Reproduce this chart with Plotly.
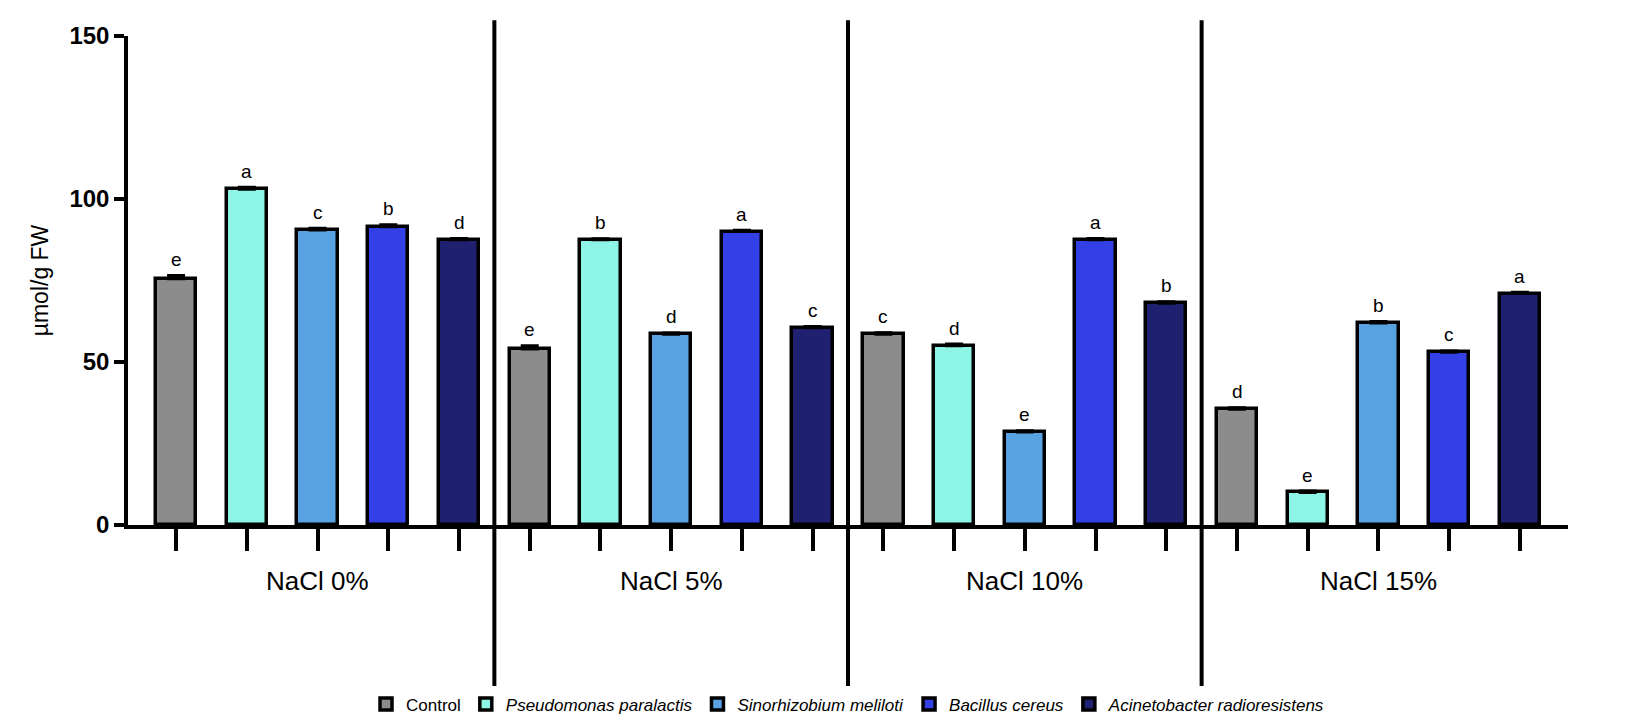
import plotly.graph_objects as go

groups = ["NaCl 0%", "NaCl 5%", "NaCl 10%", "NaCl 15%"]
strains = ["Control", "Pseudomonas paralactis", "Sinorhizobium meliloti",
           "Bacillus cereus", "Acinetobacter radioresistens"]
colors = ["#8c8c8c", "#8ef5e6", "#58a2e2", "#3340e6", "#1f2070"]

# values[strain][group]
values = [
    [75.5, 54.0, 58.5, 35.5],
    [103.0, 87.5, 55.0, 10.0],
    [90.5, 58.5, 28.5, 62.0],
    [91.5, 90.0, 87.5, 53.0],
    [87.5, 60.5, 68.0, 71.0],
]
errors = [
    [1.0, 1.0, 0.5, 0.5],
    [0.6, 0.3, 0.5, 0.4],
    [0.5, 0.4, 0.4, 0.4],
    [0.6, 0.4, 0.4, 0.4],
    [0.4, 0.4, 0.5, 0.4],
]
letters = [
    ["e", "e", "c", "d"],
    ["a", "b", "d", "e"],
    ["c", "d", "e", "b"],
    ["b", "a", "a", "c"],
    ["d", "c", "b", "a"],
]

fig = go.Figure()
for s, name in enumerate(strains):
    xs = [g * 5 + s for g in range(len(groups))]
    label = name if s == 0 else "<i>%s</i>" % name
    fig.add_trace(go.Bar(
        x=xs, y=values[s], name=label, width=0.57,
        marker=dict(color=colors[s], line=dict(color="black", width=3.5)),
        error_y=dict(type="data", array=errors[s], symmetric=False,
                     arrayminus=[0] * 4, color="black", thickness=3, width=9),
    ))
    for g in range(len(groups)):
        fig.add_annotation(x=xs[g], y=values[s][g] + errors[s][g], yshift=16,
                           text=letters[s][g], showarrow=False,
                           font=dict(size=19, color="black"))

for g, grp in enumerate(groups):
    fig.add_annotation(x=g * 5 + 2, y=-0.149, yref="paper", text=grp,
                       showarrow=False, font=dict(size=26, color="black"))
    if g > 0:
        fig.add_shape(type="line", x0=g * 5 - 0.5, x1=g * 5 - 0.5,
                      y0=-0.35, y1=1.032, yref="paper",
                      line=dict(color="black", width=4))

fig.update_layout(
    width=1630, height=726,
    margin=dict(l=120, r=70, t=28, b=200),
    plot_bgcolor="white", paper_bgcolor="white",
    font=dict(family="Liberation Sans, Arial", color="black"),
    bargap=0,
    xaxis=dict(range=[-0.68, 19.68], tickvals=list(range(20)), showticklabels=False,
               ticks="outside", ticklen=22, tickwidth=3.5, tickcolor="black",
               showline=True, linecolor="black", linewidth=3.5, showgrid=False,
               zeroline=False),
    yaxis=dict(range=[0, 150], tickvals=[0, 50, 100, 150],
               tickfont=dict(size=24, weight="bold"),
               ticks="outside", ticklen=10, tickwidth=3.5, tickcolor="black",
               showline=True, linecolor="black", linewidth=3.5, showgrid=False,
               zeroline=False, title=dict(text="µmol/g FW", font=dict(size=23))),
    legend=dict(orientation="h", x=0.5, xanchor="center", y=-0.33, yanchor="top",
                font=dict(size=17), itemwidth=30),
)

fig.write_html("out.html")
